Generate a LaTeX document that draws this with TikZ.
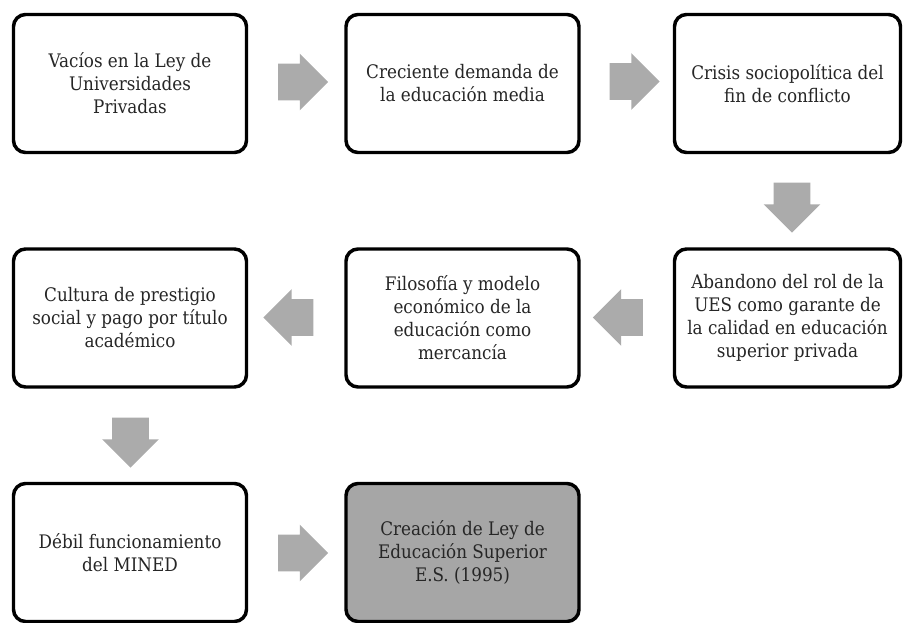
\documentclass[tikz,border=0pt]{standalone}
\usepackage{fontspec}
\setmainfont{DejaVu Serif Condensed}
\usetikzlibrary{shapes.arrows}

\begin{document}
\begin{tikzpicture}[
    x=0.75pt,y=-0.75pt,
    every node/.style={
        outer sep=0pt,
    },
    causebox/.style n args={2}{
        draw=black,
        fill=#2,
        rectangle,
        rounded corners=9pt,
        line width=2.6pt,
        align=center,
        text=black!85,
        font=\fontsize{14pt}{17.25pt}\selectfont,
        minimum width=#1,
        minimum height=103.5pt,
        inner sep=0pt,
    },
    blockarrow/.style={
        single arrow,
        fill=black!33,
        draw=none,
        inner xsep=0pt,
        inner ysep=13.5pt,
        single arrow head extend=7.5pt,
        minimum height=37.5pt,
        minimum width=42pt,
        rotate=#1,
    },
    blockarrow/.default=0,
]
    \useasboundingbox (0,0) rectangle (904,622);
    % first row
    \node[causebox={174.75pt}{white}] (vacios) at (130,83.5) {Vacíos en la Ley de\\Universidades\\Privadas};
    \node[causebox={174.75pt}{white}] (demanda) at (462.5,83.5) {Creciente demanda de\\la educación media};
    \node[causebox={169.5pt}{white}] (crisis) at (787.5,83.5) {Crisis sociopolítica del\\fin de conflicto};
    % second row
    \node[causebox={169.5pt}{white}] (abandono) at (787.5,318) {Abandono del rol de la\\UES como garante de\\la calidad en educación\\superior privada};
    \node[causebox={174.75pt}{white}] (filosofia) at (462.5,318) {Filosofía y modelo\\económico de la\\educación como\\mercancía};
    \node[causebox={174.75pt}{white}] (cultura) at (130,318) {Cultura de prestigio\\social y pago por título\\académico};
    % third row
    \node[causebox={174.75pt}{white}] (mined) at (130,552.5) {Débil funcionamiento\\del MINED};
    \node[causebox={174.75pt}{black!35}] (ley) at (462.5,552.5) {Creación de Ley de\\Educación Superior\\E.S. (1995)};

    \node[blockarrow] (arrowa) at (294,82) {};
    \node[blockarrow] (arrowb) at (625.5,81.5) {};
    \node[blockarrow=-90] (arrowc) at (792,198.5) {};
    \node[blockarrow=180] (arrowd) at (627,317.5) {};
    \node[blockarrow=180] (arrowe) at (297.5,317.5) {};
    \node[blockarrow=-90] (arrowf) at (130.5,433.5) {};
    \node[blockarrow] (arrowg) at (294,553) {};
\end{tikzpicture}
\end{document}
